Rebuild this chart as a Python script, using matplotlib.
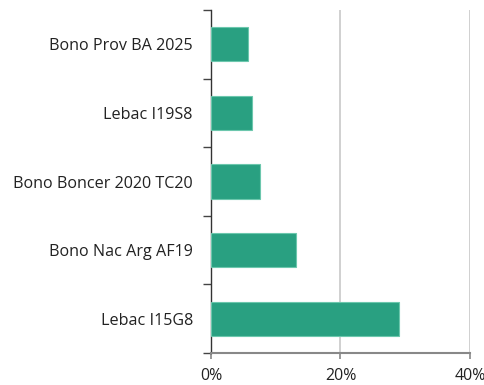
import matplotlib
matplotlib.use("Agg")

import matplotlib.pyplot as plt
from matplotlib.ticker import FixedLocator, FuncFormatter

bond_names = [
    "Lebac I15G8",
    "Bono Nac Arg AF19",
    "Bono Boncer 2020 TC20",
    "Lebac I19S8",
    "Bono Prov BA 2025",
]
bond_shares = [29.0, 13.2, 7.6, 6.3, 5.7]
x_ticks = [0, 20, 40]

plt.rcParams["font.family"] = ["Open Sans", "DejaVu Sans"]

figure, axes = plt.subplots(figsize=(4.85, 3.85), dpi=100)
figure.subplots_adjust(left=0.435, right=0.969, top=0.974, bottom=0.083)

positions = list(range(len(bond_names)))
axes.barh(
    positions,
    bond_shares,
    height=0.5,
    color="#29a081",
    edgecolor="#6cc7ad",
    linewidth=0.8,
    zorder=3,
)

axes.set_xlim(0, 40)
axes.set_ylim(-0.5, len(bond_names) - 0.5)

axes.set_xticks(x_ticks)
axes.xaxis.set_major_formatter(FuncFormatter(lambda value, _: f"{value:.0f}%"))
axes.tick_params(axis="x", direction="out", length=4, width=1.2, color="#888888",
                 labelsize=11.5, labelcolor="#222222", pad=7)

# category boundaries carry the tick marks, labels sit on minor ticks
axes.yaxis.set_major_locator(FixedLocator([p - 0.5 for p in positions] + [len(positions) - 0.5]))
axes.yaxis.set_major_formatter(FuncFormatter(lambda value, _: ""))
axes.yaxis.set_minor_locator(FixedLocator(positions))
axes.set_yticklabels(bond_names, minor=True)
axes.tick_params(axis="y", which="major", direction="out", length=6, width=1, color="#444444")
axes.tick_params(axis="y", which="minor", length=0, labelsize=11.6, labelcolor="#222222", pad=13)

axes.grid(axis="x", color="#c8c8c8", linewidth=1.2, zorder=0)
axes.grid(axis="y", visible=False)

for side in ("top", "right"):
    axes.spines[side].set_visible(False)
axes.spines["left"].set_color("#333333")
axes.spines["left"].set_linewidth(1.0)
axes.spines["bottom"].set_color("#888888")
axes.spines["bottom"].set_linewidth(1.5)

figure.savefig("out.png", dpi=100)
